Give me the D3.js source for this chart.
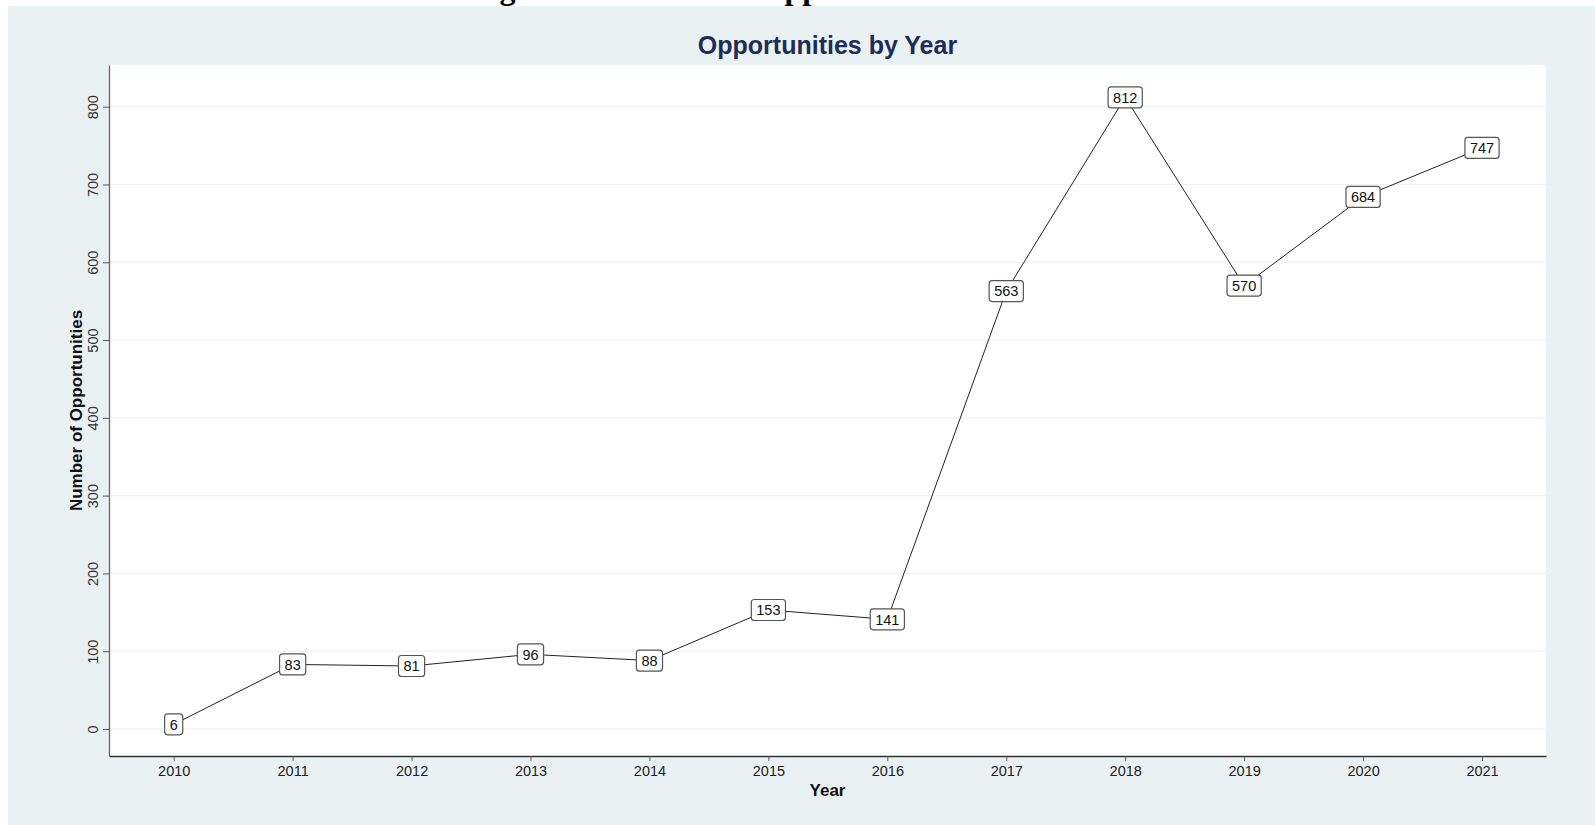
<!DOCTYPE html>
<html>
<head>
<meta charset="utf-8">
<script src="https://cdn.jsdelivr.net/npm/d3@7"></script>
<style>
  html, body { margin: 0; padding: 0; background: #ffffff; }
  svg { display: block; }
</style>
</head>
<body>
<div id="chart"></div>
<script>
const years = [2010, 2011, 2012, 2013, 2014, 2015, 2016, 2017, 2018, 2019, 2020, 2021];
const counts = [6, 83, 81, 96, 88, 153, 141, 563, 812, 570, 684, 747];
const yTicks = [0, 100, 200, 300, 400, 500, 600, 700, 800];

const width = 1595;
const height = 825;
const plot = { left: 109, right: 1546, top: 65, bottom: 756 };

const svg = d3.select("#chart")
    .append("svg")
    .attr("width", width)
    .attr("height", height);

// page heading above the graph, mostly cut off like in the source
svg.append("text")
    .attr("x", 471)
    .attr("y", -1)
    .style("font-family", "'Liberation Serif', 'Times New Roman', serif")
    .style("font-weight", "bold")
    .style("font-size", "32px")
    .style("fill", "#000")
    .text("Figure 4: Number of Opportunities");

// graph region
svg.append("rect")
    .attr("x", 8)
    .attr("y", 6)
    .attr("width", width - 8)
    .attr("height", height - 6)
    .attr("fill", "#eaf1f3");

svg.append("rect")
    .attr("x", plot.left)
    .attr("y", plot.top)
    .attr("width", plot.right - plot.left)
    .attr("height", plot.bottom - plot.top)
    .attr("fill", "#ffffff");

const x = d3.scaleLinear()
    .domain([2010 - 0.544, 2021 + 0.538])
    .range([plot.left, plot.right]);
const y = d3.scaleLinear()
    .domain([-34.7, 853.6])
    .range([plot.bottom, plot.top]);

// gridlines
svg.append("g")
    .selectAll("line")
    .data(yTicks)
    .enter()
    .append("line")
    .attr("x1", plot.left)
    .attr("x2", plot.right)
    .attr("y1", d => y(d))
    .attr("y2", d => y(d))
    .attr("stroke", "#edf3f4")
    .attr("stroke-width", 1.2);

const font = "Arial, 'Liberation Sans', sans-serif";

const xAxis = svg.append("g")
    .attr("transform", `translate(0,${plot.bottom})`)
    .call(d3.axisBottom(x).tickValues(years).tickFormat(d3.format("d")).tickSize(5).tickSizeOuter(0));
xAxis.select(".domain").attr("stroke", "#333").attr("stroke-width", 1.3);
xAxis.selectAll(".tick line").attr("stroke", "#555");
xAxis.selectAll("text")
    .attr("y", 10)
    .style("font-family", font)
    .style("font-size", "14.5px")
    .style("fill", "#222");

const yAxis = svg.append("g")
    .attr("transform", `translate(${plot.left},0)`)
    .call(d3.axisLeft(y).tickValues(yTicks).tickSize(6).tickSizeOuter(0));
yAxis.select(".domain").attr("stroke", "#666").attr("stroke-width", 1.3);
yAxis.selectAll(".tick line").attr("stroke", "#555");
yAxis.selectAll("text")
    .attr("x", 0)
    .attr("y", 0)
    .attr("dy", 0)
    .attr("transform", "translate(-11,0) rotate(-90)")
    .style("text-anchor", "middle")
    .style("font-family", font)
    .style("font-size", "14.5px")
    .style("fill", "#333");

// titles
svg.append("text")
    .attr("x", (plot.left + plot.right) / 2)
    .attr("y", 54)
    .attr("text-anchor", "middle")
    .style("font-family", font)
    .style("font-weight", "bold")
    .style("font-size", "25px")
    .style("fill", "#1e2d58")
    .text("Opportunities by Year");

svg.append("text")
    .attr("x", (plot.left + plot.right) / 2)
    .attr("y", 796)
    .attr("text-anchor", "middle")
    .style("font-family", font)
    .style("font-weight", "bold")
    .style("font-size", "17px")
    .style("fill", "#111")
    .text("Year");

svg.append("text")
    .attr("transform", `translate(82,${(plot.top + plot.bottom) / 2}) rotate(-90)`)
    .attr("text-anchor", "middle")
    .style("font-family", font)
    .style("font-weight", "bold")
    .style("font-size", "17px")
    .style("fill", "#111")
    .text("Number of Opportunities");

// line
const data = years.map((yr, i) => ({ year: yr, value: counts[i] }));
svg.append("path")
    .datum(data)
    .attr("fill", "none")
    .attr("stroke", "#222")
    .attr("stroke-width", 1)
    .attr("d", d3.line().x(d => x(d.year)).y(d => y(d.value)));

// boxed labels
const labels = svg.append("g")
    .selectAll("g")
    .data(data)
    .enter()
    .append("g")
    .attr("transform", d => `translate(${x(d.year)},${y(d.value)})`);

labels.append("text")
    .attr("text-anchor", "middle")
    .attr("dy", "0.36em")
    .style("font-family", font)
    .style("font-size", "14.5px")
    .style("fill", "#111")
    .text(d => d.value);

labels.each(function () {
    const g = d3.select(this);
    const bb = g.select("text").node().getBBox();
    g.insert("rect", "text")
        .attr("x", bb.x - 5)
        .attr("y", -10.5)
        .attr("width", bb.width + 10)
        .attr("height", 21)
        .attr("rx", 3)
        .attr("fill", "#fff")
        .attr("stroke", "#555")
        .attr("stroke-width", 1.2);
});
</script>
</body>
</html>
